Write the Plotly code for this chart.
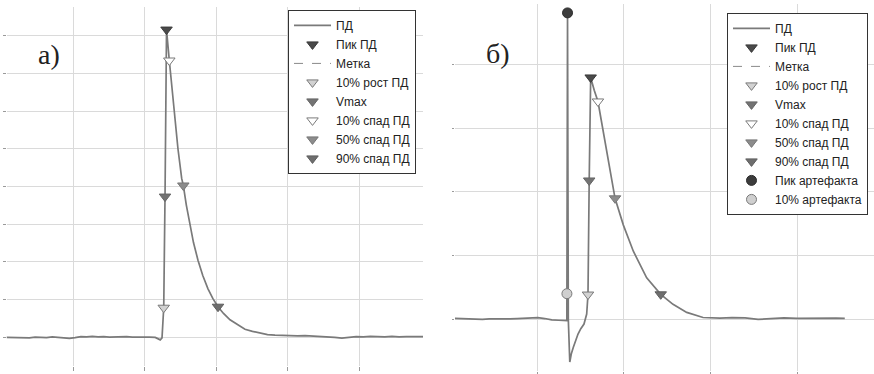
import plotly.graph_objects as go

# --- panel а): time (ms) and membrane potential (mV) ---
A_T = [7, 15, 23, 31, 39, 47, 55, 63, 71, 79, 87, 95, 103, 111, 119, 127, 135, 143,
       151, 159, 167, 175, 183, 191, 199, 207, 215, 220, 222, 224.5, 226.9, 228.7,
       230.8, 234.7, 238.5, 242.7, 246.8, 252.0, 254.3, 258.5, 263.6, 268.5, 274.8,
       281.5, 288.8, 295.5, 302.8, 310.5, 319.6, 329.5, 340.5, 351, 361.5, 372,
       382.5, 393, 403.5, 414, 424.5, 435, 445.5, 456, 466, 476, 486, 496, 506,
       516, 526, 536, 546, 556, 566, 576, 589.5]
A_V = [-80.0, -80.1, -79.9, -80.0, -80.2, -79.9, -80.0, -80.1, -79.8, -80.0, -80.3,
       -80.4, -80.1, -79.7, -79.8, -79.6, -79.8, -79.7, -79.9, -79.8, -79.9, -79.7,
       -79.9, -79.8, -80.0, -79.9, -80.0, -80.6, -81.0, -80.2, -68.2, -24.0, 42.4,
       30.1, 18.7, 8.0, -5.0, -16.8, -19.6, -27.4, -35.6, -42.3, -49.3, -55.4, -60.7,
       -64.5, -67.8, -70.5, -73.0, -74.9, -76.8, -77.6, -78.4, -78.9, -79.1, -79.3,
       -79.2, -79.4, -79.3, -79.5, -79.4, -79.6, -80.0, -80.3, -80.0, -79.7, -79.8,
       -79.6, -79.7, -79.8, -79.6, -79.8, -79.7, -79.8, -79.7]

MARK_NAMES = ["Пик ПД", "10% рост ПД", "Vmax", "10% спад ПД", "50% спад ПД", "90% спад ПД"]
A_MARK_T = [230.8, 226.9, 228.7, 234.7, 254.3, 302.8]
A_MARK_V = [42.4, -68.2, -24.0, 30.1, -19.6, -67.8]

# --- panel б): with stimulus artefact ---
B_T = [5, 13, 21, 29, 37, 45, 53, 61, 69, 77, 85, 93, 101, 109, 117, 125, 131,
       134.4, 135.2, 136.1, 137.8, 139.5, 141.9, 144.5, 147.3, 150.5, 154.2, 157.3,
       158.8, 160.2, 161.9, 166.0, 170.3, 174.0, 178.4, 184.2, 190.0, 199.5, 211.1,
       226.5, 242.7, 256.9, 272.7, 291.5, 311, 325, 340, 355, 370, 385, 400, 415,
       430, 445, 455]
B_V = [-79.5, -79.7, -79.9, -80.1, -80.0, -79.8, -79.9, -79.7, -79.8, -79.6, -79.5,
       -79.3, -79.2, -79.6, -80.2, -80.4, -80.5, -80.6, 64.3, -80.0, -100.1, -96.3,
       -93.1, -89.8, -86.9, -84.4, -82.2, -77.5, -68.3, -14.6, 33.9, 27.9, 22.6,
       14.0, 4.0, -11.0, -23.0, -35.5, -47.9, -60.4, -68.2, -72.9, -76.7, -79.1,
       -79.4, -79.2, -79.3, -80.0, -79.5, -79.3, -79.5, -79.4, -79.6, -79.4, -79.5]

B_MARK_T = [161.9, 158.8, 160.2, 170.3, 190.0, 242.7]
B_MARK_V = [33.9, -68.3, -14.6, 22.6, -23.0, -68.2]

ART_NAMES = ["Пик артефакта", "10% артефакта"]
ART_T = [135.2, 134.5]
ART_V = [64.3, -67.9]

MARK_FILL = ["#4a4a4a", "#d2d2d2", "#737373", "#ffffff", "#8c8c8c", "#6e6e6e"]
MARK_LINE = ["#3a3a3a", "#7a7a7a", "#666666", "#7a7a7a", "#777777", "#5e5e5e"]
ART_FILL = ["#3c3c3c", "#cfcfcf"]
ART_LINE = ["#2e2e2e", "#7a7a7a"]

TRACE_COLOR = "#7a7a7a"
GRID = "#dadada"
FONT = "Liberation Sans, Arial, sans-serif"
SERIF = "Liberation Serif, Times New Roman, serif"

fig = go.Figure()


def add_panel(xa, ya, leg, t, v, mt, mv, extra=False):
    fig.add_trace(go.Scatter(
        x=t, y=v, mode="lines", name="ПД", xaxis=xa, yaxis=ya, legend=leg,
        line=dict(color=TRACE_COLOR, width=1.7),
    ))
    # peak first, then the dashed "Метка" entry, then the other markers
    for i, name in enumerate(MARK_NAMES):
        fig.add_trace(go.Scatter(
            x=[mt[i]], y=[mv[i]], mode="markers", name=name,
            xaxis=xa, yaxis=ya, legend=leg,
            marker=dict(symbol="triangle-down", size=10, color=MARK_FILL[i],
                        line=dict(color=MARK_LINE[i], width=1)),
        ))
        if i == 0:
            fig.add_trace(go.Scatter(
                x=[None], y=[None], mode="lines", name="Метка",
                xaxis=xa, yaxis=ya, legend=leg,
                line=dict(color="#8a8a8a", width=1, dash="dash"),
            ))
    if extra:
        for i, name in enumerate(ART_NAMES):
            fig.add_trace(go.Scatter(
                x=[ART_T[i]], y=[ART_V[i]], mode="markers", name=name,
                xaxis=xa, yaxis=ya, legend=leg,
                marker=dict(symbol="circle", size=10, color=ART_FILL[i],
                            line=dict(color=ART_LINE[i], width=1)),
            ))


add_panel("x", "y", "legend", A_T, A_V, A_MARK_T, A_MARK_V)
add_panel("x2", "y2", "legend2", B_T, B_V, B_MARK_T, B_MARK_V, extra=True)

W, H = 874, 374

axis_common = dict(showgrid=True, gridcolor=GRID, gridwidth=1, zeroline=False,
                   showline=False, showticklabels=False, ticks="outside",
                   tickcolor="#9a9a9a")

legend_common = dict(
    xanchor="left", yanchor="top", bgcolor="white",
    bordercolor="#333333", borderwidth=1,
    font=dict(family=FONT, size=12, color="#222222"),
    itemwidth=37,
)

fig.update_layout(
    width=W, height=H,
    margin=dict(l=0, r=0, t=0, b=0),
    paper_bgcolor="white", plot_bgcolor="white",
    showlegend=True,
    xaxis=dict(domain=[6.5 / W, 423 / W], range=[7.0, 589.5], tick0=0, dtick=100,
               ticklen=4, anchor="y", **axis_common),
    yaxis=dict(domain=[(H - 369) / H, (H - 7) / H], range=[-91.4, 51.4], tick0=-80,
               dtick=15, ticklen=3, anchor="x", **axis_common),
    xaxis2=dict(domain=[455 / W, 1.0], range=[5.4, 488.7], tick0=0, dtick=100,
                ticklen=3, anchor="y2", **axis_common),
    yaxis2=dict(domain=[0.0, (H - 4) / H], range=[-104.3, 68.5], tick0=-80,
                dtick=30, ticklen=2, anchor="x2", **axis_common),
    legend=dict(x=288 / W, y=1 - 10 / H, **legend_common),
    legend2=dict(x=727 / W, y=1 - 13 / H, **legend_common),
    annotations=[
        dict(text="а)", xref="paper", yref="paper", x=49 / W, y=1 - 55 / H,
             xanchor="center", yanchor="middle", showarrow=False,
             font=dict(family=SERIF, size=28, color="#222222")),
        dict(text="б)", xref="paper", yref="paper", x=498 / W, y=1 - 54 / H,
             xanchor="center", yanchor="middle", showarrow=False,
             font=dict(family=SERIF, size=28, color="#222222")),
    ],
)

# the page is photographed at its top-left corner, so drop the default body margin
fig.write_html("out.html", config={"displayModeBar": False},
               post_script="document.body.style.margin='0';")
